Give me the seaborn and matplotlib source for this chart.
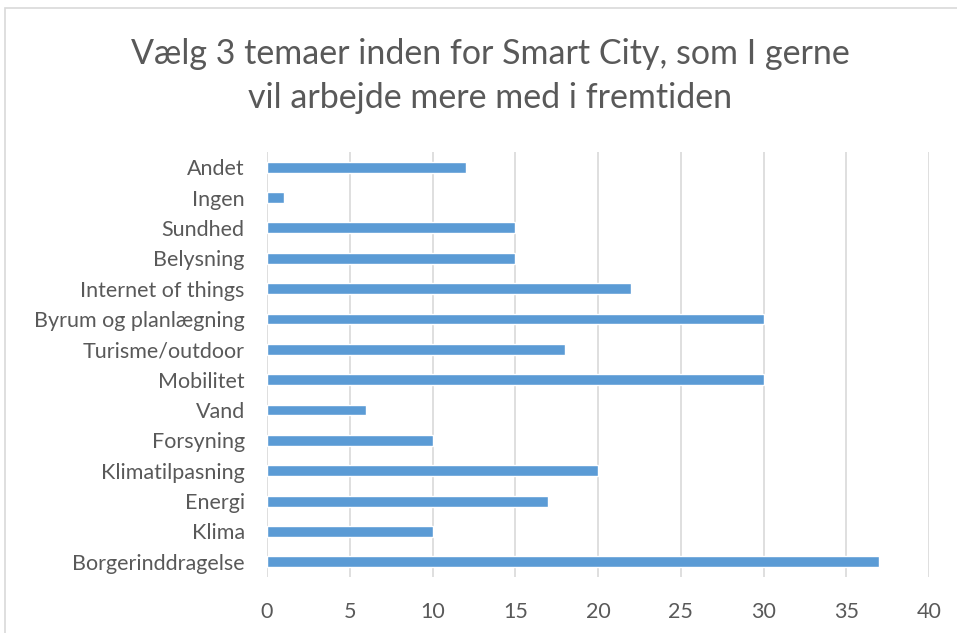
import matplotlib
matplotlib.use("Agg")
import matplotlib.pyplot as plt
import seaborn as sns
import pandas as pd
from matplotlib.patches import Rectangle

categories = ["Andet", "Ingen", "Sundhed", "Belysning", "Internet of things",
              "Byrum og planlægning", "Turisme/outdoor", "Mobilitet", "Vand",
              "Forsyning", "Klimatilpasning", "Energi", "Klima", "Borgerinddragelse"]
values = [12, 1, 15, 15, 22, 30, 18, 30, 6, 10, 20, 17, 10, 37]
xticks = [0, 5, 10, 15, 20, 25, 30, 35, 40]
title = "Vælg 3 temaer inden for Smart City, som I gerne\nvil arbejde mere med i fremtiden"

sns.set_theme(style="white")
plt.rcParams['font.family'] = ['Lato', 'DejaVu Sans']

df = pd.DataFrame({"tema": categories, "antal": values})

fig = plt.figure(figsize=(9.57, 6.33), dpi=100)
ax = fig.add_axes([267/957, 56/633, (929-267)/957, (577-152)/633])

sns.barplot(data=df, x="antal", y="tema", order=categories, color="#5B9BD5",
            width=0.36, saturation=1, ax=ax, zorder=3)

ax.set_xlim(0, 40)
ax.set_ylim(len(categories) - 0.5, -0.5)
ax.set_xticks(xticks)
ax.set_xticklabels([str(t) for t in xticks])
ax.grid(axis="x", color="#D9D9D9", linewidth=1.2, zorder=0)
ax.set_axisbelow(True)
for s in ax.spines.values():
    s.set_visible(False)
ax.set_xlabel("")
ax.set_ylabel("")
ax.tick_params(axis="both", length=0, labelsize=15.5, labelcolor="#595959")
ax.tick_params(axis="x", pad=18)
ax.tick_params(axis="y", pad=16)

fig.text(490/957, 1 - 76/633, title, ha="center", va="center", fontsize=24.5,
         color="#595959", linespacing=1.5)

fig.patches.append(Rectangle((5/957, -0.1), 1.2, 1 - 8/633 + 0.1,
                             transform=fig.transFigure, fill=False,
                             edgecolor="#D9D9D9", linewidth=1.2))

fig.savefig("out.png", dpi=100, facecolor="white")
